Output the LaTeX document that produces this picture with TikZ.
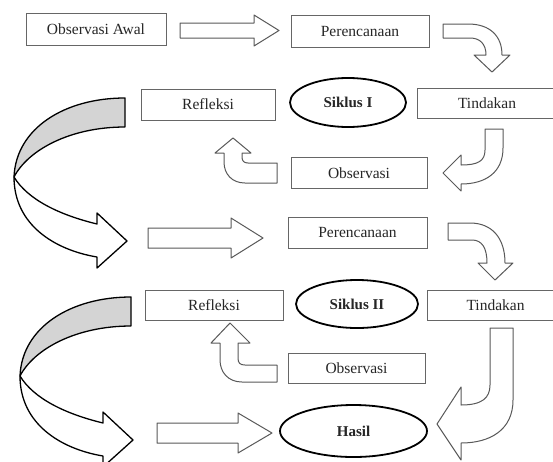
\documentclass[tikz,border=0pt]{standalone}
\usepackage{fontspec}
\setmainfont{Liberation Serif}
\usetikzlibrary{shapes.geometric}
\begin{document}
\begin{tikzpicture}[x=1pt,y=-1pt,
  box/.style={draw=black!60, line width=0.9pt, fill=white, inner sep=0pt, font=\fontsize{15.5}{17}\selectfont, text=black!85},
  oval/.style={ellipse, draw=black, line width=1.8pt, fill=white, inner sep=0pt, font=\bfseries\fontsize{15}{17}\selectfont, text=black!85},
  barrow/.style={draw=black!65, line width=1pt, fill=white, line join=round},
  bigfront/.style={draw=black, line width=1.3pt, fill=white, line join=round},
  bigback/.style={draw=black, line width=1.3pt, fill=black!17, line join=round},
  bigloop/.pic={
    \path[bigback] (125,98) .. controls (65,98) and (16,128) .. (14,177)
      .. controls (28,150) and (70,127) .. (125,127) -- cycle;
    \path[bigfront] (14,177) .. controls (14,225) and (55,250) .. (97,257)
      -- (97,268) -- (127,241) -- (97,213) -- (97,224)
      .. controls (60,215) and (28,200) .. (14,177) -- cycle;
  }]
\clip (0,0) rectangle (553,461);
\fill[white] (0,0) rectangle (553,461);

% nodes
\node[box, minimum width=140pt, minimum height=32pt] (obsawal) at (96,29) {Observasi Awal};
\node[box, minimum width=138pt, minimum height=32pt] (per1) at (360,31) {Perencanaan};
\node[box, minimum width=134pt, minimum height=31pt] (ref1) at (208,104.5) {Refleksi};
\node[oval, minimum width=116pt, minimum height=49pt] (sik1) at (348,102.5) {Siklus I};
\node[box, minimum width=140pt, minimum height=30pt] (tin1) at (487,103) {Tindakan};
\node[box, minimum width=136pt, minimum height=31pt] (obs1) at (359,173) {Observasi};

\node[box, minimum width=139pt, minimum height=31pt] (per2) at (357.5,232.5) {Perencanaan};
\node[box, minimum width=138pt, minimum height=30pt] (ref2) at (214,305) {Refleksi};
\node[oval, minimum width=122pt, minimum height=48pt] (sik2) at (357,304) {Siklus II};
\node[box, minimum width=137pt, minimum height=30pt] (tin2) at (495.5,305) {Tindakan};
\node[box, minimum width=137pt, minimum height=30pt] (obs2) at (356.5,368) {Observasi};
\node[oval, minimum width=147pt, minimum height=52pt] (hasil) at (353.5,431) {Hasil};

% straight block arrows
\path[barrow] (180,23) -- (254,23) -- (254,15) -- (279,30.5) -- (254,46) -- (254,38) -- (180,38) -- cycle;
\path[barrow] (148,228) -- (231,228) -- (231,218) -- (263,238) -- (231,258) -- (231,248) -- (148,248) -- cycle;
\path[barrow] (157,423) -- (238,423) -- (238,413) -- (272,433) -- (238,453) -- (238,443) -- (157,443) -- cycle;

% bent arrows: Perencanaan -> Tindakan
\path[barrow] (443,24) -- (468,24) .. controls (490,24) and (502,36) .. (502,55)
  -- (510,55) -- (492,72) -- (474,55) -- (486,55)
  .. controls (486,44) and (480,38) .. (470,38) -- (443,38) -- cycle;
\path[barrow] (448,223) -- (470,223) .. controls (492,223) and (505,238) .. (505,263)
  -- (513,263) -- (495,280) -- (478,263) -- (487,263)
  .. controls (487,248) and (482,240) .. (472,240) -- (448,240) -- cycle;

% Tindakan -> Observasi
\path[barrow] (485,129) -- (503,129) -- (503,148) .. controls (503,172) and (486,184) .. (461,184)
  -- (461,191) -- (443,173) -- (461,155) -- (461,165)
  .. controls (478,165) and (485,161) .. (485,150) -- cycle;

% Tindakan -> Hasil
\path[barrow] (490,328) -- (513,328) -- (513,400) .. controls (513,430) and (490,443) .. (461,443)
  -- (461,460) -- (437,424) -- (461,387) -- (461,405)
  .. controls (482,405) and (490,398) .. (490,385) -- cycle;

% Observasi -> Refleksi
\path[barrow] (233,138) -- (251,153) -- (242,153) -- (242,157) .. controls (242,161) and (244,163) .. (248,163)
  -- (277,163) -- (277,183) -- (245,183) .. controls (232,183) and (224,174) .. (224,162)
  -- (224,153) -- (215,153) -- cycle;
\path[barrow] (230,323) -- (250,343) -- (238,343) -- (238,358) .. controls (238,363) and (240,365) .. (245,365)
  -- (277,365) -- (277,382) -- (242,382) .. controls (228,382) and (220,372) .. (220,360)
  -- (220,343) -- (211,343) -- cycle;

% big loops Refleksi -> next cycle
\pic at (0,0) {bigloop};
\pic at (6,199) {bigloop};
\end{tikzpicture}
\end{document}
